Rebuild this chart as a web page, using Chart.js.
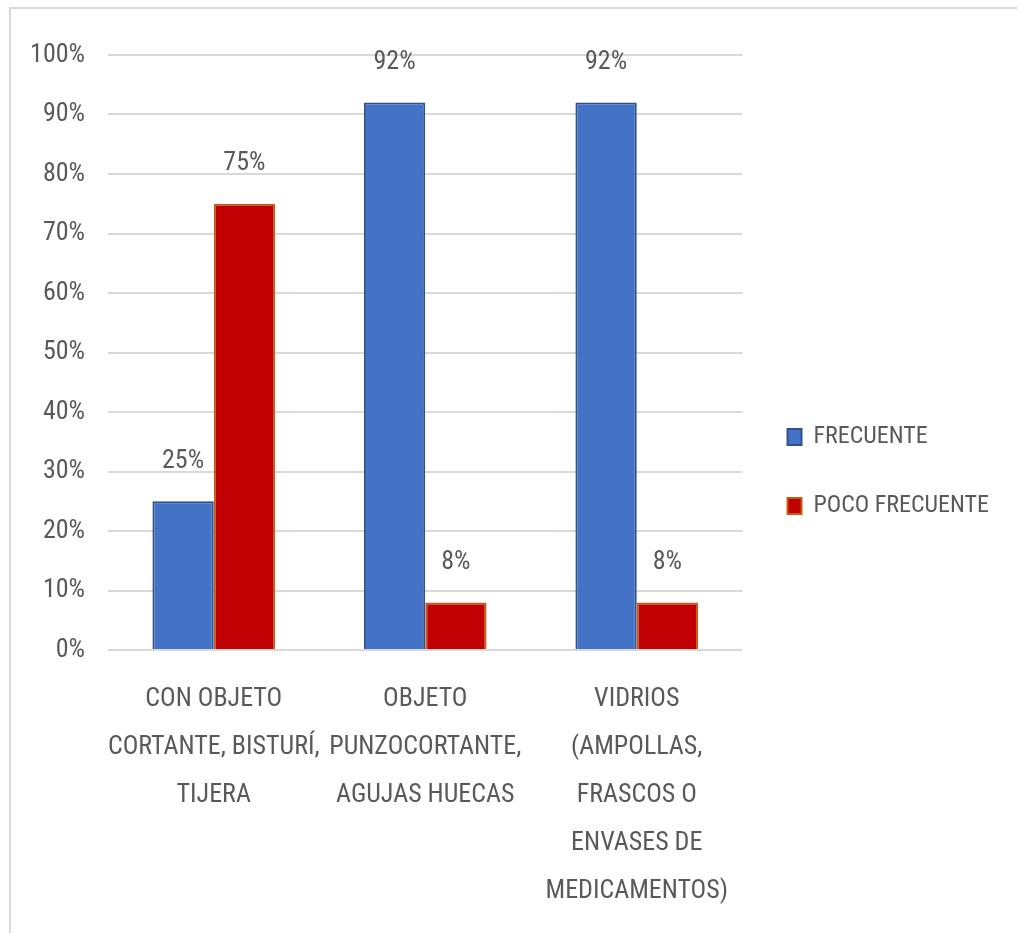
<!DOCTYPE html>
<html>
<head>
<meta charset="utf-8">
<script src="https://cdn.jsdelivr.net/npm/chart.js@4/dist/chart.umd.min.js"></script>
<style>
  html, body { margin: 0; padding: 0; background: #fff; }
  #wrap { position: relative; width: 1017px; height: 933px; }
  #frame { position: absolute; left: 9px; top: 7px; right: -10px; bottom: -10px;
           border-left: 2px solid #d9d9d9; border-top: 2px solid #d9d9d9; pointer-events: none; }
</style>
</head>
<body>
<div id="wrap">
  <canvas id="grafico" width="1017" height="933"></canvas>
  <div id="frame"></div>
</div>
<script>
// categorias y porcentajes
const categorias = [
  ['CON OBJETO', 'CORTANTE, BISTURÍ,', 'TIJERA'],
  ['OBJETO', 'PUNZOCORTANTE,', 'AGUJAS HUECAS'],
  ['VIDRIOS', '(AMPOLLAS,', 'FRASCOS O', 'ENVASES DE', 'MEDICAMENTOS)']
];
const frecuente = [25, 92, 92];
const pocoFrecuente = [75, 8, 8];
const ticksY = [0, 10, 20, 30, 40, 50, 60, 70, 80, 90, 100];

const fuente = "'Roboto Condensed', 'DejaVu Sans Condensed', sans-serif";
const gris = '#595959';

// etiquetas de porcentaje sobre cada barra
const etiquetas = {
  id: 'etiquetas',
  afterDatasetsDraw(chart) {
    const ctx = chart.ctx;
    ctx.save();
    ctx.font = '26px ' + fuente;
    ctx.fillStyle = gris;
    ctx.textAlign = 'center';
    ctx.textBaseline = 'middle';
    chart.data.datasets.forEach((ds, i) => {
      chart.getDatasetMeta(i).data.forEach((bar, j) => {
        ctx.fillText(ds.data[j] + '%', bar.x, bar.y - 40);
      });
    });
    ctx.restore();
  }
};

new Chart(document.getElementById('grafico'), {
  type: 'bar',
  data: {
    labels: categorias,
    datasets: [
      {
        label: 'FRECUENTE',
        data: frecuente,
        backgroundColor: '#4472C4',
        borderColor: '#2F528F',
        borderWidth: 2
      },
      {
        label: 'POCO FRECUENTE',
        data: pocoFrecuente,
        backgroundColor: '#C00000',
        borderColor: '#C55A11',
        borderWidth: 2
      }
    ]
  },
  options: {
    responsive: false,
    animation: false,
    layout: { padding: { top: 15, left: 0, right: 27, bottom: 5 } },
    datasets: { bar: { categoryPercentage: 0.58, barPercentage: 1 } },
    scales: {
      y: {
        min: 0,
        max: 100,
        afterBuildTicks(axis) { axis.ticks = ticksY.map(v => ({ value: v })); },
        afterFit(axis) { axis.width = 108; },
        ticks: {
          callback: v => v + '%',
          color: gris,
          font: { family: fuente, size: 26 },
          padding: 23
        },
        grid: { color: '#d9d9d9', lineWidth: 2, drawTicks: false },
        border: { display: false }
      },
      x: {
        afterFit(axis) { axis.height = 278; },
        ticks: {
          color: gris,
          font: { family: fuente, size: 26, lineHeight: 48 / 26 },
          padding: 25,
          maxRotation: 0,
          autoSkip: false
        },
        grid: { display: false, drawTicks: false },
        border: { display: false }
      }
    },
    plugins: {
      // espacio libre sobre el área de trazado, solo sobre las columnas
      title: {
        display: true,
        text: ' ',
        fullSize: false,
        padding: 0,
        font: { size: 40, lineHeight: 1 }
      },
      legend: {
        position: 'right',
        labels: {
          color: gris,
          font: { family: fuente, size: 24 },
          boxWidth: 14,
          boxHeight: 16,
          padding: 45
        }
      },
      tooltip: { enabled: false }
    }
  },
  plugins: [etiquetas]
});
</script>
</body>
</html>
